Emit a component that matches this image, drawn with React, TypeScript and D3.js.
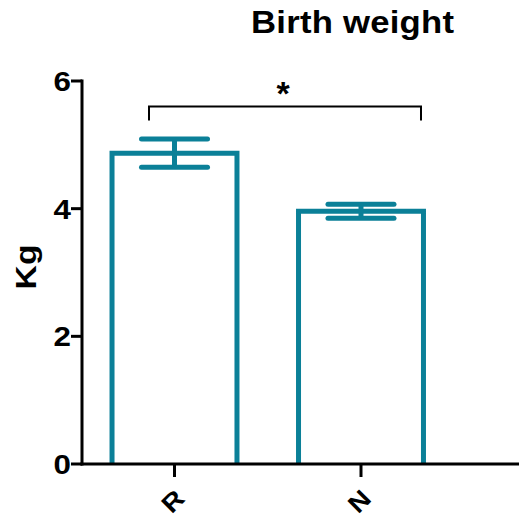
import React from "react";
import * as d3 from "d3";

const categories = ["R", "N"];
const means = [4.87, 3.96];
const errors = [0.22, 0.11];
const yTicks = [0, 2, 4, 6];
const title = "Birth weight";
const yLabel = "Kg";
const sigLabel = "*";

const W = 519;
const H = 520;
const TEAL = "#0b8098";
const FONT = "'Liberation Sans', Arial, sans-serif";
const SX = 1.12;

export default function App() {
  const y = d3.scaleLinear().domain([0, 6]).range([464, 81]);
  const x = d3
    .scaleBand<string>()
    .domain(categories)
    .range([82, 453.5])
    .paddingInner(0.33)
    .paddingOuter(0.161);
  const bw = x.bandwidth();
  const capHalf = 33;
  const cx = (c: string) => (x(c) as number) + bw / 2;
  const bracketY = y(5.6);

  return (
    <svg
      width={W}
      height={H}
      style={{ position: "absolute", left: 0, top: 0 }}
      fontFamily={FONT}
    >
      <rect width={W} height={H} fill="#fff" />
      <text
        transform={`translate(251,33) scale(${SX},1)`}
        fontSize={31}
        fontWeight="bold"
        letterSpacing={0.2}
      >
        {title}
      </text>

      {categories.map((c, i) => {
        const x0 = x(c) as number;
        const m = means[i];
        const e = errors[i];
        const xc = cx(c);
        return (
          <g key={c}>
            <path
              d={`M${x0},${y(0)} V${y(m)} H${x0 + bw} V${y(0)}`}
              fill="none"
              stroke={TEAL}
              strokeWidth={5}
            />
            <line x1={xc} x2={xc} y1={y(m - e)} y2={y(m + e)} stroke={TEAL} strokeWidth={5} />
            <line x1={xc - capHalf} x2={xc + capHalf} y1={y(m + e)} y2={y(m + e)} stroke={TEAL} strokeWidth={5} strokeLinecap="round" />
            <line x1={xc - capHalf} x2={xc + capHalf} y1={y(m - e)} y2={y(m - e)} stroke={TEAL} strokeWidth={5} strokeLinecap="round" />
          </g>
        );
      })}

      {/* axes */}
      <line x1={82} x2={82} y1={y(6) - 1.5} y2={y(0) + 1.5} stroke="#000" strokeWidth={3} />
      <line x1={80.5} x2={W} y1={y(0)} y2={y(0)} stroke="#000" strokeWidth={3} />
      {yTicks.map((t) => (
        <g key={t}>
          <line x1={71} x2={82} y1={y(t)} y2={y(t)} stroke="#000" strokeWidth={3} />
          <text
            transform={`translate(71,${y(t)}) scale(${SX},1)`}
            dy="0.36em"
            textAnchor="end"
            fontSize={28}
            fontWeight="bold"
          >
            {t}
          </text>
        </g>
      ))}
      {categories.map((c) => (
        <g key={c}>
          <line x1={cx(c)} x2={cx(c)} y1={y(0)} y2={y(0) + 13} stroke="#000" strokeWidth={3} />
          <text
            transform={`translate(${cx(c) - 2},${501}) rotate(-45) scale(${SX},1)`}
            textAnchor="middle"
            dy="0.36em"
            fontSize={25}
            fontWeight="bold"
          >
            {c}
          </text>
        </g>
      ))}

      <text
        transform={`translate(36,267) rotate(-90) scale(${SX},1)`}
        textAnchor="middle"
        fontSize={30}
        fontWeight="bold"
      >
        {yLabel}
      </text>

      {/* significance bracket */}
      <path
        d={`M${cx("R") - 25.5},${bracketY + 14} V${bracketY} H${cx("N") + 60} V${bracketY + 14}`}
        fill="none"
        stroke="#000"
        strokeWidth={2}
      />
      <text x={283} y={105} textAnchor="middle" fontSize={34} fontWeight="bold">
        {sigLabel}
      </text>
    </svg>
  );
}
